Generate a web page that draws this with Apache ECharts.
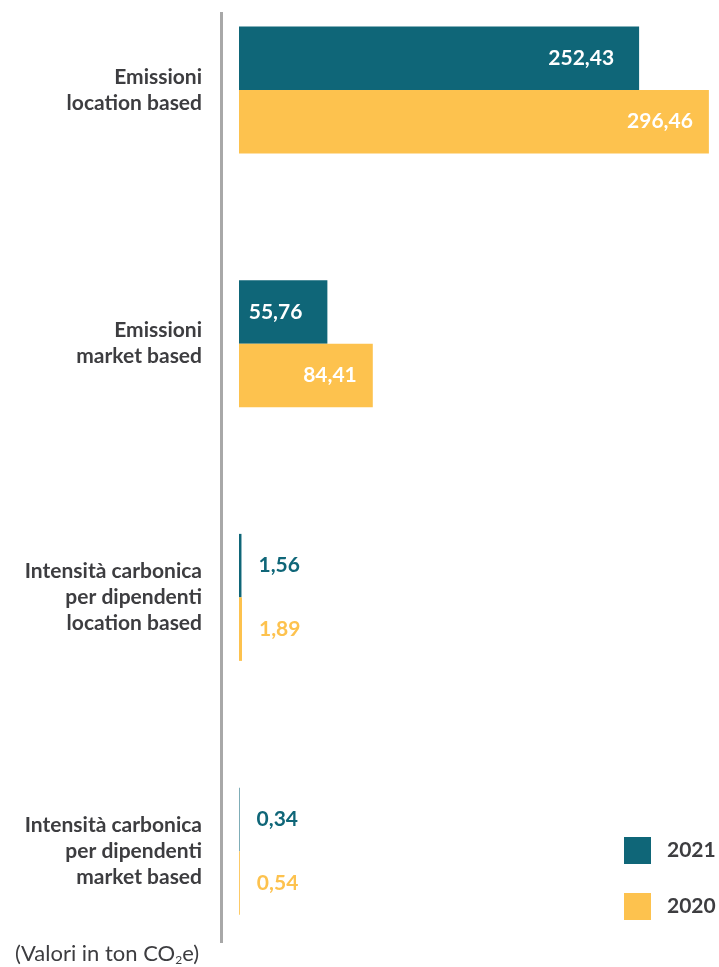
<!DOCTYPE html>
<html>
<head>
<meta charset="utf-8">
<script src="https://cdn.jsdelivr.net/npm/echarts@6/dist/echarts.min.js"></script>
<style>
  html, body { margin: 0; padding: 0; background: #ffffff; }
  #chart { width: 719px; height: 967px; }
</style>
</head>
<body>
<div id="chart"></div>
<script>
// Emission categories, top to bottom
const categories = [
  'Emissioni\nlocation based',
  'Emissioni\nmarket based',
  'Intensità carbonica\nper dipendenti\nlocation based',
  'Intensità carbonica\nper dipendenti\nmarket based'
];
const seriesNames = ['2021', '2020'];
const values2021 = [252.43, 55.76, 1.56, 0.34];
const values2020 = [296.46, 84.41, 1.89, 0.54];

const TEAL = '#0f6678';
const YELLOW = '#fdc24e';
const TEXT = '#3d3d40';
const FONT = 'Lato, "Open Sans", sans-serif';

// Italian decimal comma
const fmt = v => v.toFixed(2).replace('.', ',');

// Big bars carry the value inside; tiny ones get it outside in the bar colour
function buildData(values, color, insideDistance) {
  return values.map(v => {
    const item = { value: v };
    if (v < 10) {
      item.label = { position: 'right', distance: 17, color: color };
    } else {
      item.label = { position: 'insideRight', distance: insideDistance, color: '#ffffff' };
    }
    return item;
  });
}

const chart = echarts.init(document.getElementById('chart'), null, { renderer: 'canvas' });

chart.setOption({
  animation: false,
  backgroundColor: '#ffffff',
  grid: { left: 239, top: -37, height: 1015, width: 475.5, outerBoundsMode: 'none', containLabel: false },
  xAxis: {
    type: 'value',
    min: 0,
    max: 300,
    show: false
  },
  yAxis: {
    type: 'category',
    data: categories,
    inverse: true,
    axisLine: { show: false },
    axisTick: { show: false },
    splitLine: { show: false },
    axisLabel: {
      margin: 37,
      color: TEXT,
      fontFamily: FONT,
      fontWeight: 'bold',
      fontSize: 21,
      lineHeight: 26,
      align: 'right'
    }
  },
  legend: {
    orient: 'vertical',
    left: 619,
    top: 832,
    padding: 5,
    itemWidth: 27,
    itemHeight: 27,
    itemGap: 29,
    icon: 'rect',
    data: seriesNames,
    textStyle: {
      color: TEXT,
      fontFamily: FONT,
      fontWeight: 'bold',
      fontSize: 21,
      padding: [0, 0, 0, 11]
    }
  },
  title: {
    left: 10,
    top: 937,
    text: '{a|(Valori in ton CO}{s|2}{a|e)}',
    textStyle: {
      fontWeight: 'normal',
      rich: {
        a: { fontFamily: FONT, fontSize: 22, fontWeight: 'normal', color: TEXT },
        s: { fontFamily: FONT, fontSize: 12, fontWeight: 'normal', color: TEXT, verticalAlign: 'bottom', padding: [12, 0, 0, 0] }
      }
    }
  },
  graphic: [
    {
      // vertical divider between labels and bars
      type: 'line',
      shape: { x1: 221.5, y1: 12, x2: 221.5, y2: 943 },
      style: { stroke: '#a8a8a8', lineWidth: 3 }
    }
  ],
  series: [
    {
      name: seriesNames[0],
      type: 'bar',
      barWidth: 63.5,
      barGap: '0%',
      itemStyle: { color: TEAL },
      label: {
        show: true,
        fontFamily: FONT,
        fontWeight: 'bold',
        fontSize: 21,
        formatter: p => fmt(p.value)
      },
      data: buildData(values2021, TEAL, 25)
    },
    {
      name: seriesNames[1],
      type: 'bar',
      barWidth: 63.5,
      barGap: '0%',
      itemStyle: { color: YELLOW },
      label: {
        show: true,
        fontFamily: FONT,
        fontWeight: 'bold',
        fontSize: 21,
        formatter: p => fmt(p.value)
      },
      data: buildData(values2020, YELLOW, 16)
    }
  ]
});
</script>
</body>
</html>
